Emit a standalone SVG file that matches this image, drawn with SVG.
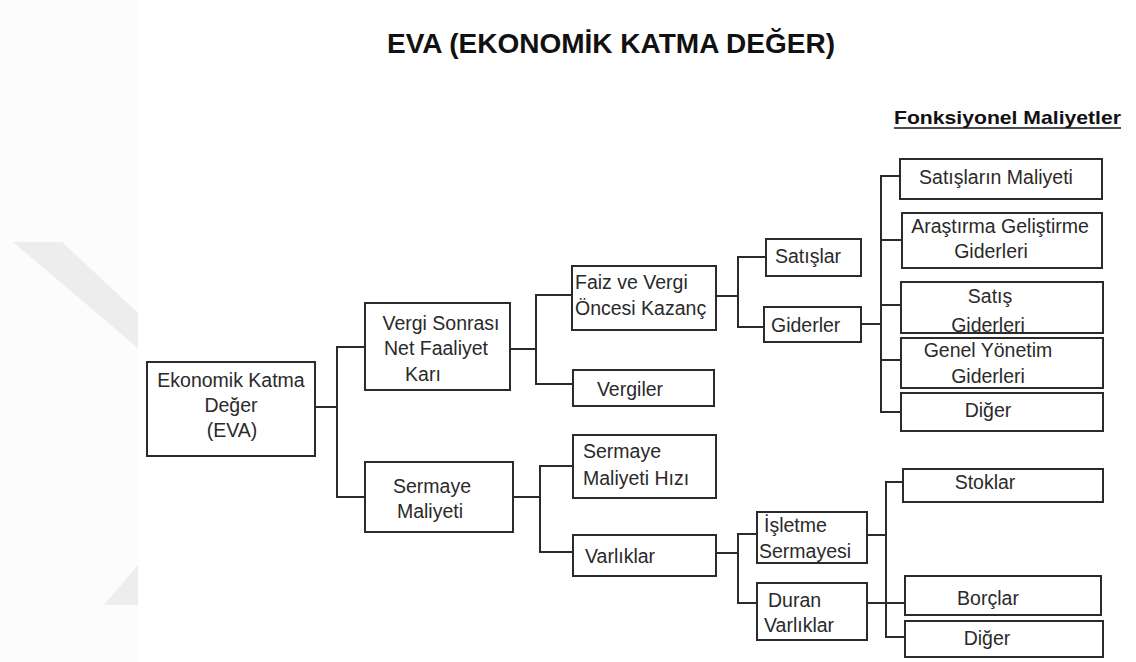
<svg xmlns="http://www.w3.org/2000/svg" width="1136" height="662" viewBox="0 0 1136 662">
  <style>
    .box { fill: #ffffff; stroke: #2b2b2b; stroke-width: 2; }
    .lbl { font-family: "Liberation Sans", Arial, sans-serif; font-size: 19.5px; fill: #2a2a2a; }
    .mid { text-anchor: middle; }
    .wire { fill: none; stroke: #2b2b2b; stroke-width: 2; }
    .head { font-family: "Liberation Sans", Arial, sans-serif; font-weight: bold; fill: #111111; }
  </style>

  <!-- page background and faint chevron watermark on the left margin -->
  <rect x="0" y="0" width="1136" height="662" fill="#fcfcfc"/>
  <polygon points="13,242 62,242 138,313 138,348" fill="#ededed"/>
  <polygon points="138,565 104,605 138,605" fill="#ededed"/>
  <rect x="138" y="0" width="998" height="662" fill="#ffffff"/>

  <!-- headings -->
  <text class="head" x="611" y="53" font-size="27" text-anchor="middle" textLength="448" lengthAdjust="spacingAndGlyphs">EVA (EKONOMİK KATMA DEĞER)</text>
  <text class="head" x="894" y="124" font-size="18.5" textLength="227" lengthAdjust="spacingAndGlyphs">Fonksiyonel Maliyetler</text>
  <line x1="894" y1="128" x2="1121" y2="128" stroke="#111111" stroke-width="1.5"/>

  <!-- connectors -->
  <g id="connectors" class="wire">
    <path d="M315 407 H337 M365 347 H337 V497 H365"/>
    <path d="M510 349 H536 M573 295 H536 V384 H573"/>
    <path d="M513 497 H540 M573 466 H540 V552 H573"/>
    <path d="M716 296 H738 M766 257 H738 V327 H764"/>
    <path d="M861 324 H881 M901 176 H881 V412 H901 M881 240 H902 M881 305 H901 M881 360 H901"/>
    <path d="M716 553 H738 M757 534 H738 V603 H757"/>
    <path d="M867 535 H886 M903 482 H886 V637 H905"/>
    <path d="M867 603 H905"/>
  </g>

  <g id="eva">
    <rect class="box" x="147" y="362" width="168" height="94"/>
    <text class="lbl mid" x="231" y="387">Ekonomik Katma</text>
    <text class="lbl mid" x="231" y="412">Değer</text>
    <text class="lbl mid" x="232" y="437">(EVA)</text>
  </g>

  <g id="vergi-sonrasi">
    <rect class="box" x="365" y="303" width="145" height="87"/>
    <text class="lbl mid" x="441" y="330">Vergi Sonrası</text>
    <text class="lbl mid" x="436" y="355">Net Faaliyet</text>
    <text class="lbl mid" x="423" y="381">Karı</text>
  </g>

  <g id="sermaye-maliyeti">
    <rect class="box" x="365" y="462" width="148" height="70"/>
    <text class="lbl mid" x="432" y="493">Sermaye</text>
    <text class="lbl mid" x="430" y="518">Maliyeti</text>
  </g>

  <g id="faiz-vergi">
    <rect class="box" x="572" y="266" width="144" height="64"/>
    <text class="lbl" x="575" y="289">Faiz ve Vergi</text>
    <text class="lbl" x="575" y="315">Öncesi Kazanç</text>
  </g>

  <g id="vergiler">
    <rect class="box" x="573" y="370" width="141" height="36"/>
    <text class="lbl mid" x="630" y="396">Vergiler</text>
  </g>

  <g id="sermaye-hizi">
    <rect class="box" x="573" y="435" width="143" height="63"/>
    <text class="lbl" x="583" y="458">Sermaye</text>
    <text class="lbl" x="583" y="485">Maliyeti Hızı</text>
  </g>

  <g id="varliklar">
    <rect class="box" x="573" y="535" width="143" height="41"/>
    <text class="lbl" x="585" y="563">Varlıklar</text>
  </g>

  <g id="satislar">
    <rect class="box" x="766" y="239" width="95" height="37"/>
    <text class="lbl" x="775" y="263">Satışlar</text>
  </g>

  <g id="giderler">
    <rect class="box" x="764" y="307" width="97" height="35"/>
    <text class="lbl" x="771" y="332">Giderler</text>
  </g>

  <g id="isletme-sermayesi">
    <rect class="box" x="757" y="512" width="110" height="51"/>
    <text class="lbl" x="764" y="532">İşletme</text>
    <text class="lbl" x="759" y="558">Sermayesi</text>
  </g>

  <g id="duran-varliklar">
    <rect class="box" x="757" y="583" width="110" height="57"/>
    <text class="lbl" x="768" y="607">Duran</text>
    <text class="lbl" x="764" y="632">Varlıklar</text>
  </g>

  <g id="satislarin-maliyeti">
    <rect class="box" x="900" y="159" width="202" height="40"/>
    <text class="lbl mid" x="996" y="184">Satışların Maliyeti</text>
  </g>

  <g id="arge-giderleri">
    <rect class="box" x="902" y="213" width="200" height="55"/>
    <text class="lbl mid" x="1000" y="233">Araştırma Geliştirme</text>
    <text class="lbl mid" x="991" y="258">Giderleri</text>
  </g>

  <g id="satis-giderleri">
    <rect class="box" x="901" y="282" width="202" height="51"/>
    <text class="lbl mid" x="990" y="303">Satış</text>
    <text class="lbl mid" x="988" y="332">Giderleri</text>
  </g>

  <g id="genel-yonetim">
    <rect class="box" x="901" y="338" width="202" height="50"/>
    <text class="lbl mid" x="988" y="357">Genel Yönetim</text>
    <text class="lbl mid" x="988" y="383">Giderleri</text>
  </g>

  <g id="diger-gider">
    <rect class="box" x="901" y="393" width="202" height="38"/>
    <text class="lbl mid" x="988" y="417">Diğer</text>
  </g>

  <g id="stoklar">
    <rect class="box" x="903" y="469" width="200" height="33"/>
    <text class="lbl mid" x="985" y="489">Stoklar</text>
  </g>

  <g id="borclar">
    <rect class="box" x="905" y="576" width="196" height="39"/>
    <text class="lbl mid" x="988" y="605">Borçlar</text>
  </g>

  <g id="diger-varlik">
    <rect class="box" x="905" y="621" width="198" height="36"/>
    <text class="lbl mid" x="987" y="645">Diğer</text>
  </g>
</svg>
